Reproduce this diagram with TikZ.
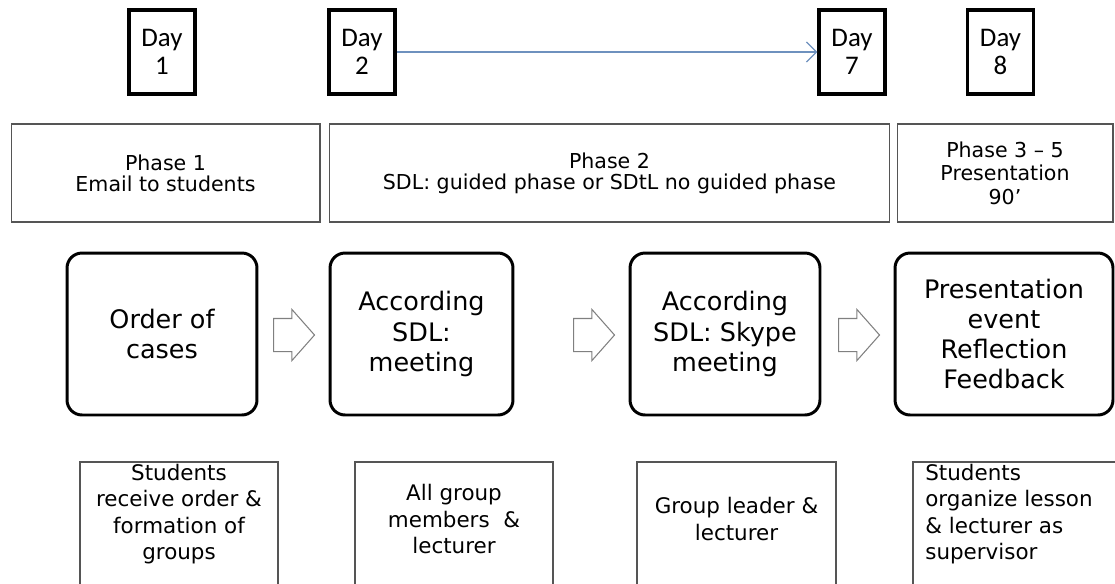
\documentclass[tikz,border=0pt]{standalone}
\usepackage{fontspec}
\setmainfont{DejaVu Sans}
\newfontfamily\dayfont{Carlito}
\usepackage{tikz}
\usetikzlibrary{arrows.meta,positioning,shapes.arrows}
\definecolor{lineblue}{RGB}{110,145,190}
\definecolor{boxgray}{RGB}{85,85,85}
\tikzset{
  daybox/.style={draw,line width=2pt,minimum width=1.32cm,minimum height=1.68cm,inner sep=0pt,align=center,font=\dayfont\fontsize{15.3}{15.6}\selectfont},
  phasebox/.style={draw=boxgray,line width=0.6pt,minimum height=1.96cm,inner sep=0pt,align=center,font=\fontsize{11.7}{12}\selectfont},
  stepbox/.style={draw,line width=1.7pt,rounded corners=0.3cm,minimum height=3.24cm,inner sep=0pt,align=center,font=\fontsize{14.5}{17.2}\selectfont},
  lowtext/.style={inner sep=0pt,align=center,font=\fontsize{12.2}{15.1}\selectfont},
  lowbox/.style={draw=boxgray,line width=0.6pt},
  blockarrow/.style={draw=gray,line width=0.6pt,fill=white,shape=single arrow,anchor=tail,minimum height=0.82cm,inner xsep=0pt,inner ysep=0.32cm,single arrow head extend=0.18cm,single arrow tip angle=97}
}
\begin{document}
\begin{tikzpicture}[x=0.02cm,y=-0.02cm]
\useasboundingbox (0,0) rectangle (1115,583);
\clip (0,0) rectangle (1115,583);
% days
\node[daybox] (day1) at (162,52) {Day\\1};
\node[daybox] (day2) at (362,52) {Day\\2};
\node[daybox] (day7) at (852,52) {Day\\7};
\node[daybox] (day8) at (1000.5,52) {Day\\8};
\draw[lineblue,line width=0.7pt,-{Straight Barb[length=2mm,width=4mm]}] (day2.east) -- (day7.west);
% phases
\node[phasebox,minimum width=6.18cm] (ph1) at (165.5,173) {Phase 1\\Email to students};
\node[phasebox,minimum width=11.22cm] (ph2) at (609.5,173) {Phase 2\\SDL: guided phase or SDtL no guided phase};
\node[phasebox,minimum width=4.32cm,font=\fontsize{11.7}{13.3}\selectfont] (ph3) at (1005,173) {Phase 3 -- 5\\Presentation\\90'};
% steps
\node[stepbox,minimum width=3.8cm] (st1) at (162,334) {Order of\\cases};
\node[stepbox,minimum width=3.66cm] (st2) at (421.5,334) {According\\SDL:\\meeting};
\node[stepbox,minimum width=3.8cm] (st3) at (725,334) {According\\SDL: Skype\\meeting};
\node[stepbox,minimum width=4.36cm] (st4) at (1004,334) {Presentation\\event\\Reflection\\Feedback};
\node[blockarrow] (ar1) at (273,335) {};
\node[blockarrow] (ar2) at (573,335) {};
\node[blockarrow] (ar3) at (838,335) {};
% who
\draw[lowbox] (80,462) rectangle (278,620);
\draw[lowbox] (355,462) rectangle (553,620);
\draw[lowbox] (637,462) rectangle (836,620);
\draw[lowbox] (913,462) rectangle (1130,620);
\node[lowtext] (low1) at (179,514) {Students\\receive order \&\\formation of\\groups};
\node[lowtext] (low2) at (454,519) {All group\\members \ \&\\lecturer};
\node[lowtext] (low3) at (736.5,519) {Group leader \&\\lecturer};
\node[lowtext,align=left,anchor=west] (low4) at (925,514) {Students\\organize lesson\\\& lecturer as\\supervisor};
\end{tikzpicture}
\end{document}
